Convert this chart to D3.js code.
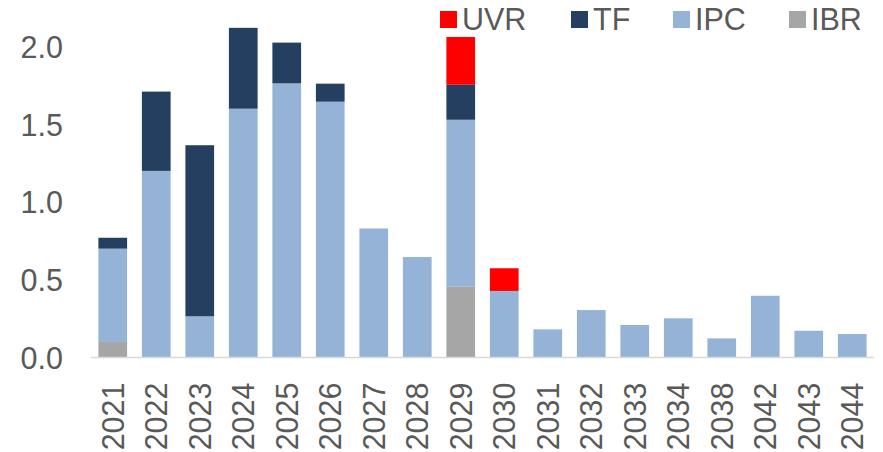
<!DOCTYPE html>
<html>
<head>
<meta charset="utf-8">
<script src="https://cdn.jsdelivr.net/npm/d3@7"></script>
<style>
  html, body { margin: 0; padding: 0; background: #fff; }
  svg { display: block; font-family: "Liberation Sans", Arial, sans-serif; }
</style>
</head>
<body>
<svg id="chart" width="883" height="452"></svg>
<script>
// Maturity profile by year, stacked by instrument type
const years = ["2021","2022","2023","2024","2025","2026","2027","2028","2029","2030","2031","2032","2033","2034","2038","2042","2043","2044"];
const IBR = [0.10, 0, 0, 0, 0, 0, 0, 0, 0.455, 0, 0, 0, 0, 0, 0, 0, 0, 0];
const IPC = [0.60, 1.20, 0.265, 1.60, 1.763, 1.645, 0.83, 0.646, 1.074, 0.428, 0.181, 0.305, 0.209, 0.252, 0.123, 0.397, 0.172, 0.151];
const TF  = [0.07, 0.51, 1.10, 0.52, 0.262, 0.116, 0, 0, 0.225, 0, 0, 0, 0, 0, 0, 0, 0, 0];
const UVR = [0, 0, 0, 0, 0, 0, 0, 0, 0.307, 0.146, 0, 0, 0, 0, 0, 0, 0, 0];
const yTicks = [0, 0.5, 1.0, 1.5, 2.0];

const seriesNames = ["IBR", "IPC", "TF", "UVR"];
const seriesValues = { IBR, IPC, TF, UVR };
const colors = { UVR: "#FF0000", TF: "#243F60", IPC: "#95B3D7", IBR: "#A6A6A6" };
const legendOrder = ["UVR", "TF", "IPC", "IBR"];

const rows = years.map((yr, i) => {
  const r = { year: yr };
  seriesNames.forEach(s => r[s] = seriesValues[s][i]);
  return r;
});

const svg = d3.select("#chart");
const plotLeft = 91, plotRight = 874, plotTop = 46.5, plotBottom = 357.5;
const fontSize = 30.5;

const x = d3.scaleBand().domain(years).range([plotLeft, plotRight]).paddingInner(0.34).paddingOuter(0.17);
const y = d3.scaleLinear().domain([0, 2.0]).range([plotBottom, plotTop]);

const stacked = d3.stack().keys(seriesNames)(rows);

svg.append("g")
  .selectAll("g")
  .data(stacked)
  .join("g")
  .attr("fill", d => colors[d.key])
  .selectAll("rect")
  .data(d => d.filter(p => p[1] - p[0] > 0))
  .join("rect")
  .attr("x", d => x(d.data.year))
  .attr("width", x.bandwidth())
  .attr("y", d => y(d[1]))
  .attr("height", d => y(d[0]) - y(d[1]));

// y axis labels (no axis line)
const yAxis = svg.append("g")
  .attr("transform", `translate(${plotLeft - 28},0)`)
  .call(d3.axisLeft(y).tickValues(yTicks).tickFormat(d3.format(".1f")).tickSize(0).tickPadding(0));
yAxis.select(".domain").remove();
yAxis.selectAll("text")
  .attr("font-size", fontSize)
  .attr("fill", "#595959")
  .attr("font-family", "Liberation Sans, Arial, sans-serif")
  .attr("dy", "0.36em");

// x axis baseline and rotated year labels
const xAxis = svg.append("g")
  .attr("transform", `translate(0,${plotBottom})`)
  .call(d3.axisBottom(x).tickSize(0).tickSizeOuter(0).tickPadding(0));
xAxis.select(".domain")
  .attr("stroke", "#D9D9D9")
  .attr("stroke-width", 1.5)
  .attr("d", `M${plotLeft},0H${plotRight}`);
xAxis.selectAll("text")
  .attr("font-size", fontSize)
  .attr("fill", "#595959")
  .attr("font-family", "Liberation Sans, Arial, sans-serif")
  .attr("text-anchor", "end")
  .attr("transform", "translate(0,25) rotate(-90)")
  .attr("x", 0)
  .attr("y", 0)
  .attr("dy", "0.36em");

// legend
const legendPos = { UVR: 440, TF: 571, IPC: 673, IBR: 789 };
const lg = svg.append("g");
legendOrder.forEach(k => {
  lg.append("rect")
    .attr("x", legendPos[k]).attr("y", 11)
    .attr("width", 17).attr("height", 17)
    .attr("fill", colors[k]);
  lg.append("text")
    .attr("x", legendPos[k] + 22).attr("y", 30)
    .attr("font-size", fontSize)
    .attr("fill", "#595959")
    .text(k);
});
</script>
</body>
</html>
